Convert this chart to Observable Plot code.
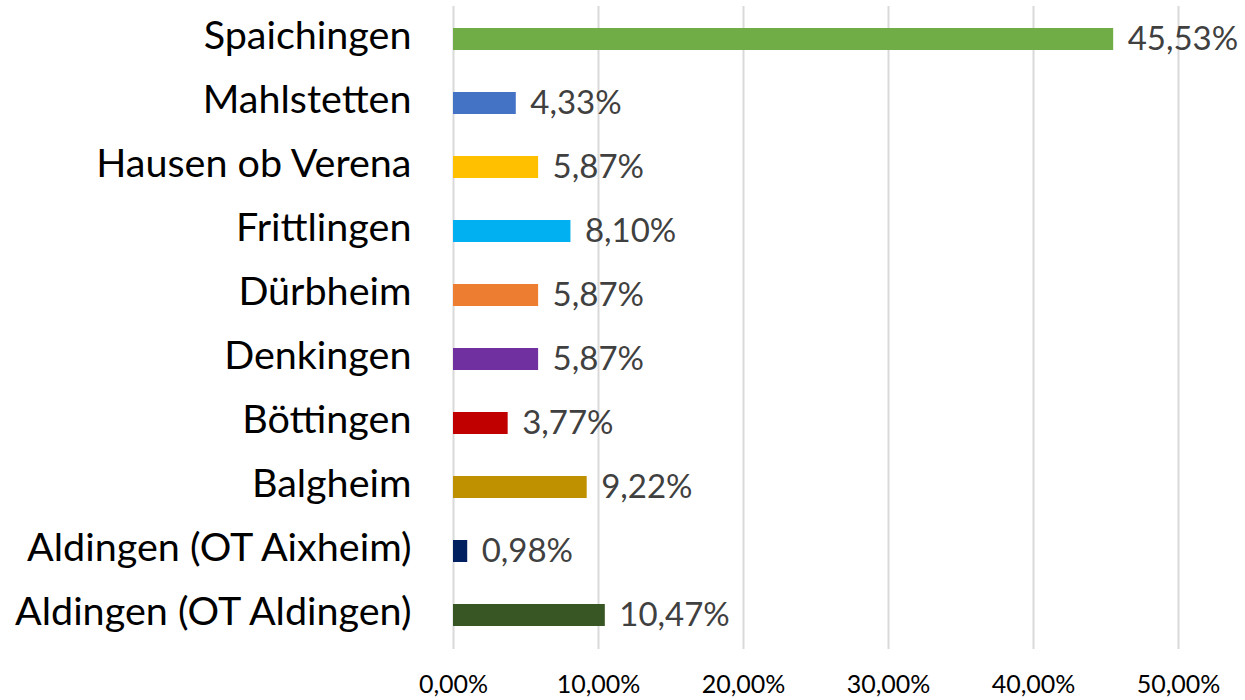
<!DOCTYPE html>
<html>
<head>
<meta charset="utf-8">
<script src="https://cdn.jsdelivr.net/npm/d3@7"></script>
<script src="https://cdn.jsdelivr.net/npm/@observablehq/plot@0.6"></script>
<style>
  html, body { margin: 0; padding: 0; background: #fff; }
  #chart svg { display: block; }
</style>
</head>
<body>
<div id="chart"></div>
<script>
const categories = [
  "Spaichingen", "Mahlstetten", "Hausen ob Verena", "Frittlingen", "Dürbheim",
  "Denkingen", "Böttingen", "Balgheim", "Aldingen (OT Aixheim)", "Aldingen (OT Aldingen)"
];
const values = [45.53, 4.33, 5.87, 8.10, 5.87, 5.87, 3.77, 9.22, 0.98, 10.47];
const colors = ["#70AD47", "#4472C4", "#FFC000", "#00B0F0", "#ED7D31",
                "#7030A0", "#C00000", "#BF9000", "#002060", "#375623"];
const xTicks = [0, 10, 20, 30, 40, 50];

const de = d3.formatLocale({decimal: ",", thousands: ".", grouping: [3], currency: ["", " €"]});
const fmt = v => de.format(".2f")(v) + "%";

const data = categories.map((c, i) => ({category: c, value: values[i], color: colors[i]}));

const font = "Lato, 'Open Sans', sans-serif";

const chart = Plot.plot({
  width: 1245,
  height: 700,
  marginLeft: 453,
  marginRight: 67,
  marginTop: 4,
  marginBottom: 51,
  style: {fontFamily: font, background: "#fff"},
  x: {domain: [0, 50]},
  y: {domain: categories, paddingInner: 0.66, paddingOuter: 0.33},
  marks: [
    Plot.ruleX(xTicks, {stroke: "#d9d9d9", strokeWidth: 2, insetTop: 2}),
    Plot.barX(data, {x: "value", y: "category", fill: "color"}),
    Plot.text(data, {x: "value", y: "category", text: d => fmt(d.value), textAnchor: "start", dx: 14,
                     fill: "#404040", fontSize: 33, fontFamily: font}),
    Plot.axisY({tickSize: 0, tickPadding: 42, dy: -3, fontSize: 39.5, fill: "#000", label: null, fontFamily: font}),
    Plot.axisX({ticks: xTicks, tickSize: 0, tickPadding: 26, fontSize: 25, fill: "#000", label: null,
                tickFormat: d => fmt(d), fontFamily: font})
  ]
});
document.getElementById("chart").appendChild(chart);
</script>
</body>
</html>
